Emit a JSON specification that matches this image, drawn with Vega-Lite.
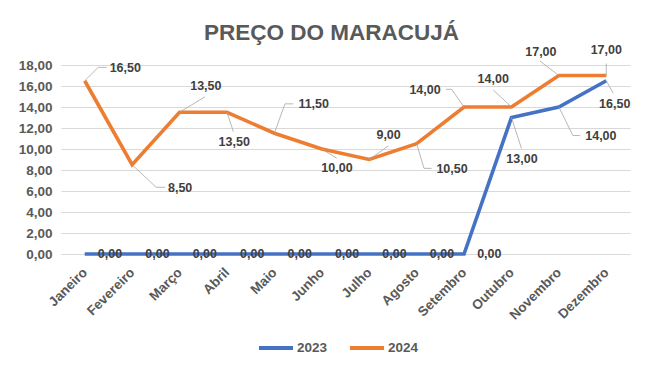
{
  "$schema": "https://vega.github.io/schema/vega-lite/v6.json",
  "width": 569,
  "height": 189,
  "autosize": {"type": "none"},
  "padding": {"left": 61, "top": 65, "right": 34, "bottom": 124},
  "background": "white",
  "config": {
    "locale": {"number": {"decimal": ",", "thousands": ".", "grouping": [3], "currency": ["R$", ""]}},
    "view": {"stroke": null},
    "font": "Liberation Sans",
    "text": {"font": "Liberation Sans", "fontSize": 12.5, "fontWeight": "bold", "color": "#404040", "align": "center", "baseline": "middle"},
    "rule": {"color": "#a6a6a6", "strokeWidth": 0.8}
  },
  "title": {"text": "PREÇO DO MARACUJÁ", "font": "Liberation Sans", "fontSize": 22.5, "fontWeight": "bold", "color": "#595959", "anchor": "middle", "dx": -14, "offset": -1},
  "data": {"values": [
    {"mes": "Janeiro", "ano": "2023", "preco": 0},
    {"mes": "Fevereiro", "ano": "2023", "preco": 0},
    {"mes": "Março", "ano": "2023", "preco": 0},
    {"mes": "Abril", "ano": "2023", "preco": 0},
    {"mes": "Maio", "ano": "2023", "preco": 0},
    {"mes": "Junho", "ano": "2023", "preco": 0},
    {"mes": "Julho", "ano": "2023", "preco": 0},
    {"mes": "Agosto", "ano": "2023", "preco": 0},
    {"mes": "Setembro", "ano": "2023", "preco": 0},
    {"mes": "Outubro", "ano": "2023", "preco": 13},
    {"mes": "Novembro", "ano": "2023", "preco": 14},
    {"mes": "Dezembro", "ano": "2023", "preco": 16.5},
    {"mes": "Janeiro", "ano": "2024", "preco": 16.5},
    {"mes": "Fevereiro", "ano": "2024", "preco": 8.5},
    {"mes": "Março", "ano": "2024", "preco": 13.5},
    {"mes": "Abril", "ano": "2024", "preco": 13.5},
    {"mes": "Maio", "ano": "2024", "preco": 11.5},
    {"mes": "Junho", "ano": "2024", "preco": 10},
    {"mes": "Julho", "ano": "2024", "preco": 9},
    {"mes": "Agosto", "ano": "2024", "preco": 10.5},
    {"mes": "Setembro", "ano": "2024", "preco": 14},
    {"mes": "Outubro", "ano": "2024", "preco": 14},
    {"mes": "Novembro", "ano": "2024", "preco": 17},
    {"mes": "Dezembro", "ano": "2024", "preco": 17}
  ]},
  "encoding": {
    "x": {
      "field": "mes", "type": "ordinal",
      "sort": ["Janeiro", "Fevereiro", "Março", "Abril", "Maio", "Junho", "Julho", "Agosto", "Setembro", "Outubro", "Novembro", "Dezembro"],
      "scale": {"type": "point", "padding": 0.5},
      "axis": {"title": null, "domain": false, "ticks": false, "labelAngle": -45, "labelAlign": "right", "labelBaseline": "middle", "labelPadding": 16, "labelFont": "Liberation Sans", "labelFontSize": 13.5, "labelFontWeight": "bold", "labelColor": "#595959"}
    },
    "y": {
      "field": "preco", "type": "quantitative",
      "scale": {"domain": [0, 18], "nice": false},
      "axis": {"title": null, "domain": false, "ticks": false, "values": [0, 2, 4, 6, 8, 10, 12, 14, 16, 18], "format": ".2f", "grid": true, "gridColor": "#d9d9d9", "gridWidth": 1, "labelPadding": 9, "labelFont": "Liberation Sans", "labelFontSize": 13.5, "labelFontWeight": "bold", "labelColor": "#595959"}
    }
  },
  "layer": [
    {
      "mark": {"type": "line", "strokeWidth": 3.6},
      "encoding": {
        "color": {
          "field": "ano", "type": "nominal",
          "scale": {"domain": ["2023", "2024"], "range": ["#4472C4", "#ED7D31"]},
          "legend": {"title": null, "orient": "none", "legendX": 196, "legendY": 264, "direction": "horizontal", "symbolType": "stroke", "symbolSize": 1156, "symbolStrokeWidth": 4, "labelFont": "Liberation Sans", "labelFontSize": 13.5, "labelFontWeight": "bold", "labelColor": "#595959", "labelOffset": 2, "columnPadding": 14, "padding": 0}
        }
      }
    },
    {
      "transform": [{"filter": "datum.ano == '2023' && datum.preco == 0"}],
      "mark": {"type": "text", "dx": 25.3, "dy": 0},
      "encoding": {"text": {"field": "preco", "type": "quantitative", "format": ".2f"}}
    },
    {
      "transform": [{"filter": "datum.ano == '2024' && datum.mes == 'Janeiro'"}],
      "layer": [
        {"mark": {"type": "rule", "x2Offset": 13.6, "y2Offset": -13.4}, "encoding": {"x2": {"field": "mes"}, "y2": {"field": "preco"}}},
        {"mark": {"type": "rule", "xOffset": 13.6, "yOffset": -13.4, "x2Offset": 22, "y2Offset": -13.4}, "encoding": {"x2": {"field": "mes"}, "y2": {"field": "preco"}}},
        {"mark": {"type": "text", "dx": 40.6, "dy": -13}, "encoding": {"text": {"field": "preco", "type": "quantitative", "format": ".2f"}}}
      ]
    },
    {
      "transform": [{"filter": "datum.ano == '2024' && datum.mes == 'Fevereiro'"}],
      "layer": [
        {"mark": {"type": "rule", "x2Offset": 24, "y2Offset": 22.5}, "encoding": {"x2": {"field": "mes"}, "y2": {"field": "preco"}}},
        {"mark": {"type": "rule", "xOffset": 24, "yOffset": 22.5, "x2Offset": 33, "y2Offset": 22.5}, "encoding": {"x2": {"field": "mes"}, "y2": {"field": "preco"}}},
        {"mark": {"type": "text", "dx": 48, "dy": 23}, "encoding": {"text": {"field": "preco", "type": "quantitative", "format": ".2f"}}}
      ]
    },
    {
      "transform": [{"filter": "datum.ano == '2024' && datum.mes == 'Março'"}],
      "layer": [
        {"mark": {"type": "rule", "x2Offset": 25.5, "y2Offset": -15.5}, "encoding": {"x2": {"field": "mes"}, "y2": {"field": "preco"}}},
        {"mark": {"type": "text", "dx": 26.3, "dy": -26.5}, "encoding": {"text": {"field": "preco", "type": "quantitative", "format": ".2f"}}}
      ]
    },
    {
      "transform": [{"filter": "datum.ano == '2024' && datum.mes == 'Abril'"}],
      "layer": [
        {"mark": {"type": "rule", "x2Offset": 6.4, "y2Offset": 19.4}, "encoding": {"x2": {"field": "mes"}, "y2": {"field": "preco"}}},
        {"mark": {"type": "text", "dx": 7.3, "dy": 29.4}, "encoding": {"text": {"field": "preco", "type": "quantitative", "format": ".2f"}}}
      ]
    },
    {
      "transform": [{"filter": "datum.ano == '2024' && datum.mes == 'Maio'"}],
      "layer": [
        {"mark": {"type": "rule", "x2Offset": 10.6, "y2Offset": -29.4}, "encoding": {"x2": {"field": "mes"}, "y2": {"field": "preco"}}},
        {"mark": {"type": "rule", "xOffset": 10.6, "yOffset": -29.4, "x2Offset": 19, "y2Offset": -29.4}, "encoding": {"x2": {"field": "mes"}, "y2": {"field": "preco"}}},
        {"mark": {"type": "text", "dx": 39.3, "dy": -29.4}, "encoding": {"text": {"field": "preco", "type": "quantitative", "format": ".2f"}}}
      ]
    },
    {
      "transform": [{"filter": "datum.ano == '2024' && datum.mes == 'Junho'"}],
      "layer": [
        {"mark": {"type": "rule", "x2Offset": 15, "y2Offset": 9.3}, "encoding": {"x2": {"field": "mes"}, "y2": {"field": "preco"}}},
        {"mark": {"type": "text", "dx": 15.2, "dy": 19.3}, "encoding": {"text": {"field": "preco", "type": "quantitative", "format": ".2f"}}}
      ]
    },
    {
      "transform": [{"filter": "datum.ano == '2024' && datum.mes == 'Julho'"}],
      "layer": [
        {"mark": {"type": "rule", "x2Offset": 19, "y2Offset": -13.5}, "encoding": {"x2": {"field": "mes"}, "y2": {"field": "preco"}}},
        {"mark": {"type": "text", "dx": 19.4, "dy": -24.8}, "encoding": {"text": {"field": "preco", "type": "quantitative", "format": ".2f"}}}
      ]
    },
    {
      "transform": [{"filter": "datum.ano == '2024' && datum.mes == 'Agosto'"}],
      "layer": [
        {"mark": {"type": "rule", "x2Offset": 7.4, "y2Offset": 24.6}, "encoding": {"x2": {"field": "mes"}, "y2": {"field": "preco"}}},
        {"mark": {"type": "rule", "xOffset": 7.4, "yOffset": 24.6, "x2Offset": 15, "y2Offset": 24.6}, "encoding": {"x2": {"field": "mes"}, "y2": {"field": "preco"}}},
        {"mark": {"type": "text", "dx": 35.4, "dy": 25}, "encoding": {"text": {"field": "preco", "type": "quantitative", "format": ".2f"}}}
      ]
    },
    {
      "transform": [{"filter": "datum.ano == '2024' && datum.mes == 'Setembro'"}],
      "layer": [
        {"mark": {"type": "rule", "x2Offset": -12.4, "y2Offset": -17.7}, "encoding": {"x2": {"field": "mes"}, "y2": {"field": "preco"}}},
        {"mark": {"type": "rule", "xOffset": -12.4, "yOffset": -17.7, "x2Offset": -18, "y2Offset": -17.7}, "encoding": {"x2": {"field": "mes"}, "y2": {"field": "preco"}}},
        {"mark": {"type": "text", "dx": -39, "dy": -17.5}, "encoding": {"text": {"field": "preco", "type": "quantitative", "format": ".2f"}}}
      ]
    },
    {
      "transform": [{"filter": "datum.ano == '2024' && datum.mes == 'Outubro'"}],
      "layer": [
        {"mark": {"type": "rule", "x2Offset": -18.2, "y2Offset": -17}, "encoding": {"x2": {"field": "mes"}, "y2": {"field": "preco"}}},
        {"mark": {"type": "text", "dx": -18.2, "dy": -27.8}, "encoding": {"text": {"field": "preco", "type": "quantitative", "format": ".2f"}}}
      ]
    },
    {
      "transform": [{"filter": "datum.ano == '2024' && datum.mes == 'Novembro'"}],
      "layer": [
        {"mark": {"type": "rule", "x2Offset": -19, "y2Offset": -14.5}, "encoding": {"x2": {"field": "mes"}, "y2": {"field": "preco"}}},
        {"mark": {"type": "text", "dx": -18, "dy": -24}, "encoding": {"text": {"field": "preco", "type": "quantitative", "format": ".2f"}}}
      ]
    },
    {
      "transform": [{"filter": "datum.ano == '2024' && datum.mes == 'Dezembro'"}],
      "layer": [
        {"mark": {"type": "rule", "x2Offset": 0, "y2Offset": -12}, "encoding": {"x2": {"field": "mes"}, "y2": {"field": "preco"}}},
        {"mark": {"type": "text", "dx": 0, "dy": -26}, "encoding": {"text": {"field": "preco", "type": "quantitative", "format": ".2f"}}}
      ]
    },
    {
      "transform": [{"filter": "datum.ano == '2023' && datum.mes == 'Outubro'"}],
      "layer": [
        {"mark": {"type": "rule", "x2Offset": 10, "y2Offset": 31}, "encoding": {"x2": {"field": "mes"}, "y2": {"field": "preco"}}},
        {"mark": {"type": "text", "dx": 10.5, "dy": 41.7}, "encoding": {"text": {"field": "preco", "type": "quantitative", "format": ".2f"}}}
      ]
    },
    {
      "transform": [{"filter": "datum.ano == '2023' && datum.mes == 'Novembro'"}],
      "layer": [
        {"mark": {"type": "rule", "x2Offset": 14, "y2Offset": 28.5}, "encoding": {"x2": {"field": "mes"}, "y2": {"field": "preco"}}},
        {"mark": {"type": "rule", "xOffset": 14, "yOffset": 28.5, "x2Offset": 21, "y2Offset": 28.5}, "encoding": {"x2": {"field": "mes"}, "y2": {"field": "preco"}}},
        {"mark": {"type": "text", "dx": 42, "dy": 28.5}, "encoding": {"text": {"field": "preco", "type": "quantitative", "format": ".2f"}}}
      ]
    },
    {
      "transform": [{"filter": "datum.ano == '2023' && datum.mes == 'Dezembro'"}],
      "layer": [
        {"mark": {"type": "rule", "x2Offset": 7, "y2Offset": 12.5}, "encoding": {"x2": {"field": "mes"}, "y2": {"field": "preco"}}},
        {"mark": {"type": "text", "dx": 8.4, "dy": 23.4}, "encoding": {"text": {"field": "preco", "type": "quantitative", "format": ".2f"}}}
      ]
    }
  ]
}
